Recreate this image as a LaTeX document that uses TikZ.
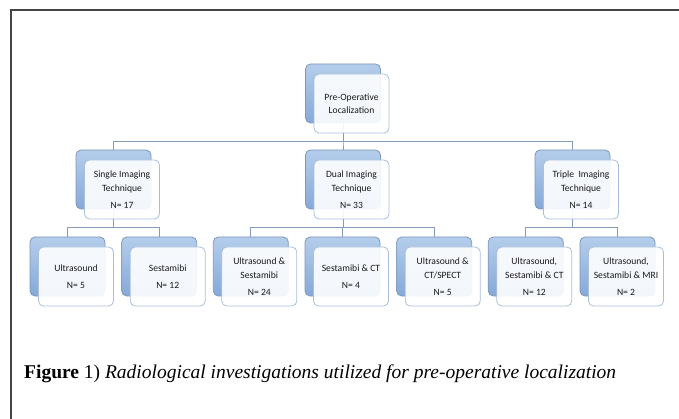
\documentclass[tikz,border=0pt]{standalone}
\usepackage{fontspec}
\setmainfont{Liberation Serif}
\newfontfamily\boxfont{Carlito}
\usetikzlibrary{calc,backgrounds}
\definecolor{backtop}{HTML}{B4CDEB}
\definecolor{backbot}{HTML}{86A9D8}
\definecolor{backline}{HTML}{7F98BA}
\definecolor{frontline}{HTML}{A8C0DE}
\definecolor{connline}{HTML}{849BBA}
\definecolor{framegray}{HTML}{444444}
\tikzset{
  backbox/.style={draw=backline, line width=0.8pt, rounded corners=5pt,
    top color=backtop, bottom color=backbot,
    minimum width=75pt, minimum height=59pt, inner sep=0pt},
  frontbox/.style={draw=frontline, line width=0.8pt, rounded corners=5pt,
    fill=white, fill opacity=0.9, text opacity=1,
    minimum width=75pt, minimum height=59pt, inner sep=1pt,
    align=center, text=black!90, font=\boxfont\fontsize{9.6}{13.5}\selectfont},
  conn/.style={draw=connline, line width=1pt},
  frameline/.style={draw=framegray, line width=2pt}
}
\begin{document}
\begin{tikzpicture}[x=1pt,y=-1pt]
\useasboundingbox (0,0) rectangle (679,419);
\coordinate (fa) at (11,419);
\coordinate (fb) at (11,10);
\coordinate (fc) at (679,10);
\draw[frameline] (fa) -- (fb) -- (fc);

% back boxes
\node[backbox] (b0) at (343,93.5) {};
\node[backbox] (b1) at (113.5,179.5) {};
\node[backbox] (b2) at (343,179.5) {};
\node[backbox] (b3) at (572.5,179.5) {};
\node[backbox] (c1) at (67.5,266.5) {};
\node[backbox] (c2) at (159.2,266.5) {};
\node[backbox] (c3) at (250.8,266.5) {};
\node[backbox] (c4) at (342.5,266.5) {};
\node[backbox] (c5) at (434.2,266.5) {};
\node[backbox] (c6) at (525.8,266.5) {};
\node[backbox] (c7) at (617.5,266.5) {};

% connectors
\begin{scope}[on background layer]
\fill[white] (0,0) rectangle (679,419);
\foreach \k in {b1,b2,b3}{
  \draw[conn] (b0.south) -- (b0.south |- 0,142) -| (\k.north);
}
\foreach \k in {c1,c2}{
  \draw[conn] (b1.south) -- (b1.south |- 0,228) -| (\k.north);
}
\foreach \k in {c3,c4,c5}{
  \draw[conn] (b2.south) -- (b2.south |- 0,228) -| (\k.north);
}
\foreach \k in {c6,c7}{
  \draw[conn] (b3.south) -- (b3.south |- 0,228) -| (\k.north);
}
\end{scope}

% front boxes
\node[frontbox] (f0) at ($(b0)+(8.5,10)$) {Pre-Operative\\Localization};
\node[frontbox] (f1) at ($(b1)+(8.5,10)$) {Single Imaging\\Technique\\[3.5pt]N= 17};
\node[frontbox] (f2) at ($(b2)+(8.5,10)$) {Dual Imaging\\Technique\\[3.5pt]N= 33};
\node[frontbox] (f3) at ($(b3)+(8.5,10)$) {Triple\ \ Imaging\\Technique\\[3.5pt]N= 14};
\node[frontbox] (g1) at ($(c1)+(8.5,10)$) {Ultrasound\\[3.5pt]N= 5};
\node[frontbox] (g2) at ($(c2)+(8.5,10)$) {Sestamibi\\[3.5pt]N= 12};
\node[frontbox] (g3) at ($(c3)+(8.5,10)$) {Ultrasound \&\\Sestamibi\\[3.5pt]N= 24};
\node[frontbox] (g4) at ($(c4)+(8.5,10)$) {Sestamibi \& CT\\[3.5pt]N= 4};
\node[frontbox] (g5) at ($(c5)+(8.5,10)$) {Ultrasound \&\\CT/SPECT\\[3.5pt]N= 5};
\node[frontbox] (g6) at ($(c6)+(8.5,10)$) {Ultrasound,\\Sestamibi \& CT\\[3.5pt]N= 12};
\node[frontbox] (g7) at ($(c7)+(8.5,10)$) {Ultrasound,\\Sestamibi \& MRI\\[3.5pt]N= 2};

% caption
\node[anchor=base west, inner sep=0pt, font=\fontsize{19.5}{23}\selectfont] (cap) at (24,378)
  {\textbf{Figure} 1) \textit{Radiological investigations utilized for pre-operative localization}};
\end{tikzpicture}
\end{document}
